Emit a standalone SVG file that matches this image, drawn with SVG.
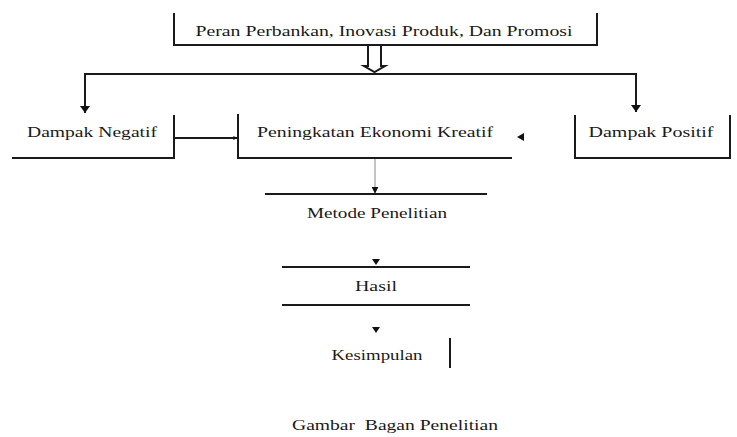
<svg xmlns="http://www.w3.org/2000/svg" width="737" height="437" viewBox="0 0 737 437">
<defs>
<marker id="ah" viewBox="0 0 10 10" refX="9" refY="5" markerWidth="4" markerHeight="4" orient="auto" markerUnits="userSpaceOnUse">
<path d="M0,0 L10,5 L0,10 z" fill="#111"/>
</marker>
<marker id="ahb" viewBox="0 0 10 10" refX="9" refY="5" markerWidth="7" markerHeight="7" orient="auto" markerUnits="userSpaceOnUse">
<path d="M0,0 L10,5 L0,10 z" fill="#111"/>
</marker>
</defs>
<style>
.b{fill:none;stroke:#1a1a1a;stroke-width:2}
.c{fill:none;stroke:#1a1a1a;stroke-width:2}
.f{fill:none;stroke:#888;stroke-width:1}
.h{fill:#111}
text{font-family:"Liberation Serif","Times New Roman",serif;font-size:14px;fill:#1a1a1a;text-anchor:middle}
</style>
<rect width="737" height="437" fill="#fff"/>
<g id="node-top">
<path class="b" d="M174,13 V45 H597 V13"/>
<text x="384" y="36" textLength="377" lengthAdjust="spacingAndGlyphs">Peran Perbankan, Inovasi Produk, Dan Promosi</text>
</g>
<g id="node-negatif">
<path class="b" d="M12,158 H174 V115"/>
<text x="92" y="137" textLength="130" lengthAdjust="spacingAndGlyphs">Dampak Negatif</text>
</g>
<g id="node-peningkatan">
<path class="b" d="M238,114 V158 H512"/>
<text x="375" y="137" textLength="236" lengthAdjust="spacingAndGlyphs">Peningkatan Ekonomi Kreatif</text>
</g>
<g id="node-positif">
<path class="b" d="M575,115 V158 H730 V115"/>
<text x="651" y="137" textLength="125" lengthAdjust="spacingAndGlyphs">Dampak Positif</text>
</g>
<g id="node-metode">
<path class="b" d="M265,194 H487"/>
<text x="377" y="218" textLength="140" lengthAdjust="spacingAndGlyphs">Metode Penelitian</text>
</g>
<g id="node-hasil">
<path class="b" d="M282,267 H470 M282,305 H470"/>
<text x="376" y="291" textLength="42" lengthAdjust="spacingAndGlyphs">Hasil</text>
</g>
<g id="node-kesimpulan">
<path class="b" d="M450,338 V368"/>
<text x="377" y="360" textLength="91" lengthAdjust="spacingAndGlyphs">Kesimpulan</text>
</g>
<g id="caption">
<text x="395" y="430" textLength="206" lengthAdjust="spacingAndGlyphs" xml:space="preserve">Gambar  Bagan Penelitian</text>
</g>
<g id="connectors">
<path class="c" stroke-width="1.5" d="M368,45 V66 H364 L374.5,72 L385,66 H381 V45"/>
<path class="c" d="M85,113 V74 H636 V112"/>
<polygon class="h" points="80,106 90,106 85,113"/>
<polygon class="h" points="631,105 641,105 636,112"/>
<line class="c" x1="175" y1="138" x2="237" y2="138" marker-end="url(#ah)"/>
<polygon class="h" points="517,137 524,133 524,141"/>
<line class="f" x1="375" y1="159" x2="375" y2="193" marker-end="url(#ahb)"/>
<polygon class="h" points="372,259 380,259 376,265"/>
<polygon class="h" points="372,327 380,327 376,333"/>
</g>
</svg>
